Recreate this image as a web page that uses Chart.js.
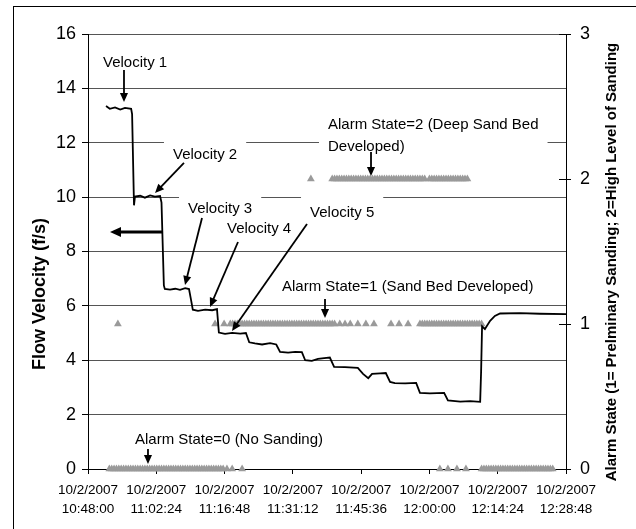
<!DOCTYPE html>
<html lang="en">
<head>
    <meta charset="UTF-8" />
    <title>Flow Velocity and Alarm State</title>
    <script src="https://cdn.jsdelivr.net/npm/chart.js"></script>
    <style>
        html, body {
          margin: 0;
          padding: 0;
          background: #fff;
        }

        .chart-container {
          position: relative;
          width: 636px;
          height: 529px;
        }
    </style>
</head>
<body>

<div class="chart-container">
    <canvas id="flowChart"></canvas>
</div>

<script>
    // minutes after 10/2/2007 10:48:00
    const velMinutes = [
      3.8, 4.6, 5.7, 6.8, 7.8, 9.1, 9.3, 9.7, 9.9, 11.0,
      12.0, 13.1, 14.1, 15.2, 15.5, 16.0, 16.2, 17.3, 18.4, 19.4,
      20.5, 21.3, 21.7, 22.1, 23.2, 24.7, 26.2, 27.2, 27.6, 28.9,
      30.4, 32.1, 33.3, 34.0, 35.2, 36.7, 38.4, 39.7, 40.5, 42.2,
      43.7, 45.1, 45.8, 47.2, 48.5, 49.8, 51.0, 51.9, 54.2, 56.9,
      58.0, 59.1, 59.9, 61.6, 62.8, 63.7, 64.7, 66.9, 69.2, 70.0,
      72.1, 75.1, 75.9, 78.5, 80.6, 82.7, 82.9, 83.1, 83.7, 84.8,
      85.8, 86.9, 91.1, 95.3, 100.8
    ];
    const velValues = [
      13.35, 13.25, 13.30, 13.22, 13.28, 13.25, 13.05, 9.70, 10.02, 10.05,
      9.98, 10.06, 10.02, 10.04, 9.80, 6.75, 6.62, 6.60, 6.63, 6.59,
      6.65, 6.62, 6.25, 5.86, 5.82, 5.86, 5.84, 5.88, 5.02, 4.97,
      5.01, 4.98, 5.00, 4.66, 4.62, 4.58, 4.63, 4.58, 4.31, 4.28,
      4.31, 4.30, 4.00, 3.98, 4.05, 4.08, 4.10, 3.76, 3.75, 3.72,
      3.50, 3.34, 3.50, 3.52, 3.53, 3.20, 3.16, 3.15, 3.17, 2.80,
      2.78, 2.80, 2.52, 2.48, 2.50, 2.47, 3.60, 5.25, 5.15, 5.45,
      5.63, 5.72, 5.73, 5.71, 5.70
    ];

    // alarm samples, one list per state (minutes after 10:48:00)
    const alarm0Minutes = [
      4.5, 5, 5.5, 6, 6.5, 7, 7.5, 8, 8.5, 9, 9.5, 10, 10.5, 11, 11.5, 12, 12.5,
      13, 13.5, 14, 14.5, 15, 15.5, 16, 16.5, 17, 17.5, 18, 18.5, 19, 19.5, 20,
      20.5, 21, 21.5, 22, 22.5, 23, 23.5, 24, 24.5, 25, 25.5, 26, 26.5, 27, 27.5,
      28, 28.5, 29.3, 30.4, 32.5,
      74.2, 75.9, 77.8, 79.7,
      83, 83.5, 84, 84.5, 85, 85.5, 86, 86.5, 87, 87.5, 88, 88.5, 89, 89.5, 90,
      90.5, 91, 91.5, 92, 92.5, 93, 93.5, 94, 94.5, 95, 95.5, 96, 96.5, 97, 97.5, 98
    ];
    const alarm1Minutes = [
      6.3, 26.8, 28.7,
      30, 30.5, 31, 31.5, 32, 32.5, 33, 33.5, 34, 34.5, 35, 35.5, 36, 36.5, 37,
      37.5, 38, 38.5, 39, 39.5, 40, 40.5, 41, 41.5, 42, 42.5, 43, 43.5, 44, 44.5,
      45, 45.5, 46, 46.5, 47, 47.5, 48, 48.5, 49, 49.5, 50, 50.5, 51, 51.5, 52,
      53.1, 54.2, 55.3, 56.9, 58.6, 60.3, 63.9, 65.6, 67.5,
      70, 70.5, 71, 71.5, 72, 72.5, 73, 73.5, 74, 74.5, 75, 75.5, 76, 76.5, 77,
      77.5, 78, 78.5, 79, 79.5, 80, 80.5, 81, 81.5, 82, 82.5, 83
    ];
    const alarm2Minutes = [
      47.0,
      51.5, 52, 52.5, 53, 53.5, 54, 54.5, 55, 55.5, 56, 56.5, 57, 57.5, 58, 58.5,
      59, 59.5, 60, 60.5, 61, 61.5, 62, 62.5, 63, 63.5, 64, 64.5, 65, 65.5, 66,
      66.5, 67, 67.5, 68, 68.5, 69, 69.5, 70, 70.5, 71,
      72, 72.5, 73, 73.5, 74, 74.5, 75, 75.5, 76, 76.5, 77, 77.5, 78, 78.5, 79,
      79.5, 80
    ];

    const tickMinutes = [0, 14.4, 28.8, 43.2, 57.6, 72, 86.4, 100.8];
    const tickDates = ['10/2/2007', '10/2/2007', '10/2/2007', '10/2/2007',
                       '10/2/2007', '10/2/2007', '10/2/2007', '10/2/2007'];
    const tickTimes = ['10:48:00', '11:02:24', '11:16:48', '11:31:12',
                       '11:45:36', '12:00:00', '12:14:24', '12:28:48'];

    const FONT = '"Liberation Sans", Arial, sans-serif';

    // callouts, placed in (minutes, f/s)
    const notes = [
      { lines: ['Velocity 1'], at: [3.16, 14.93], box: false, arrow: [[7.59, 14.68], [7.59, 13.5]] },
      { lines: ['Velocity 2'], at: [17.92, 11.55], box: true, arrow: [[20.24, 11.26], [14.13, 10.15]] },
      { lines: ['Velocity 3'], at: [21.09, 9.56], box: true, arrow: [[24.04, 9.23], [20.46, 6.77]] },
      { lines: ['Velocity 4'], at: [29.31, 8.83], box: false, arrow: [[31.63, 8.35], [25.73, 5.96]] },
      { lines: ['Velocity 5'], at: [46.82, 9.42], box: true, arrow: [[46.18, 9.01], [30.37, 5.08]] },
      { lines: ['Alarm State=2 (Deep Sand Bed', 'Developed)'], at: [50.61, 12.65], box: true,
        arrow: [[59.68, 11.66], [59.68, 10.78]] },
      { lines: ['Alarm State=1 (Sand Bed Developed)'], at: [40.91, 6.69], box: false,
        arrow: [[49.98, 6.25], [49.98, 5.55]] },
      { lines: ['Alarm State=0 (No Sanding)'], at: [9.91, 1.07], box: false,
        arrow: [[12.65, 0.74], [12.65, 0.18]] }
    ];
    const axisArrow = [[15.82, 8.72], [4.64, 8.72]];

    function drawArrow(ctx, x1, y1, x2, y2, width, head) {
      const ang = Math.atan2(y2 - y1, x2 - x1);
      ctx.strokeStyle = '#000';
      ctx.fillStyle = '#000';
      ctx.lineWidth = width;
      ctx.beginPath();
      ctx.moveTo(x1, y1);
      ctx.lineTo(x2 - Math.cos(ang) * head * 0.8, y2 - Math.sin(ang) * head * 0.8);
      ctx.stroke();
      ctx.beginPath();
      ctx.moveTo(x2, y2);
      ctx.lineTo(x2 - Math.cos(ang) * head + Math.sin(ang) * head * 0.45,
                 y2 - Math.sin(ang) * head - Math.cos(ang) * head * 0.45);
      ctx.lineTo(x2 - Math.cos(ang) * head - Math.sin(ang) * head * 0.45,
                 y2 - Math.sin(ang) * head + Math.cos(ang) * head * 0.45);
      ctx.closePath();
      ctx.fill();
    }

    const overlay = {
      id: 'overlay',
      afterDraw(chart) {
        const { ctx } = chart;
        const x = chart.scales.x;
        const y = chart.scales.y;
        const y2 = chart.scales.y2;
        const px = v => x.getPixelForValue(v);
        const py = v => y.getPixelForValue(v);

        ctx.save();

        // outer frame
        ctx.strokeStyle = '#000';
        ctx.lineWidth = 1;
        ctx.strokeRect(13.5, 6.5, 700, 600);

        // right axis ticks also cross into the plot
        ctx.beginPath();
        [0, 1, 2, 3].forEach(v => {
          const yy = Math.round(y2.getPixelForValue(v)) + 0.5;
          ctx.moveTo(y2.left - 7, yy);
          ctx.lineTo(y2.left, yy);
        });
        ctx.stroke();

        // axis titles
        ctx.fillStyle = '#000';
        ctx.textAlign = 'center';
        ctx.textBaseline = 'middle';
        ctx.save();
        ctx.translate(40, 294);
        ctx.rotate(-Math.PI / 2);
        ctx.font = 'bold 18px ' + FONT;
        ctx.fillText('Flow Velocity (f/s)', 0, 0);
        ctx.restore();
        ctx.save();
        ctx.translate(612, 262);
        ctx.rotate(-Math.PI / 2);
        ctx.font = 'bold 15px ' + FONT;
        ctx.fillText('Alarm State (1= Prelminary Sanding; 2=High Level of Sanding', 0, 0);
        ctx.restore();

        // callouts
        ctx.font = '15px ' + FONT;
        ctx.textAlign = 'left';
        const lineGap = 22;
        notes.forEach(n => {
          if (!n.box) return;
          const left = px(n.at[0]);
          const top = py(n.at[1]);
          const w = Math.max(...n.lines.map(t => ctx.measureText(t).width));
          ctx.fillStyle = '#fff';
          ctx.fillRect(left - 9, top - 18, w + 18, (n.lines.length - 1) * lineGap + 36);
        });
        ctx.fillStyle = '#000';
        notes.forEach(n => {
          n.lines.forEach((t, i) => {
            ctx.fillText(t, px(n.at[0]), py(n.at[1]) + i * lineGap);
          });
        });
        notes.forEach(n => {
          const [a, b] = n.arrow;
          drawArrow(ctx, px(a[0]), py(a[1]), px(b[0]), py(b[1]), 1.8, 9);
        });
        drawArrow(ctx, px(axisArrow[0][0]), py(axisArrow[0][1]),
                  px(axisArrow[1][0]), py(axisArrow[1][1]), 3, 11);

        ctx.restore();
      }
    };

    const alarmStyle = {
      showLine: false,
      pointStyle: 'triangle',
      pointRadius: 4.5,
      pointBackgroundColor: '#9a9a9a',
      pointBorderColor: '#9a9a9a',
      pointBorderWidth: 0,
      yAxisID: 'y2',
      clip: false
    };

    const ctx = document.getElementById('flowChart').getContext('2d');
    const chart = new Chart(ctx, {
      type: 'line',
      data: {
        datasets: [
          {
            label: 'Velocity',
            data: velMinutes.map((m, i) => ({ x: m, y: velValues[i] })),
            borderColor: '#000',
            borderWidth: 1.8,
            pointRadius: 0,
            tension: 0,
            yAxisID: 'y'
          },
          Object.assign({ label: 'Alarm 2', data: alarm2Minutes.map(m => ({ x: m, y: 2 })) }, alarmStyle),
          Object.assign({ label: 'Alarm 1', data: alarm1Minutes.map(m => ({ x: m, y: 1 })) }, alarmStyle),
          Object.assign({ label: 'Alarm 0', data: alarm0Minutes.map(m => ({ x: m, y: 0 })) }, alarmStyle)
        ]
      },
      options: {
        responsive: true,
        maintainAspectRatio: false,
        animation: false,
        layout: { padding: { top: 34, left: 0, right: 0, bottom: 0 } },
        font: { family: FONT },
        plugins: {
          legend: { display: false },
          tooltip: { enabled: false }
        },
        scales: {
          x: {
            type: 'linear',
            min: 0,
            max: 100.8,
            afterBuildTicks: s => { s.ticks = tickMinutes.map(v => ({ value: v })); },
            afterFit: s => { s.height = 60; },
            ticks: {
              autoSkip: false,
              maxRotation: 0,
              minRotation: 0,
              color: '#000',
              padding: 6,
              font: { family: FONT, size: 13.5, lineHeight: 1.45 },
              callback: (v, i) => [tickDates[i], tickTimes[i]]
            },
            grid: { drawOnChartArea: false, tickLength: 5, color: '#000' },
            border: { color: '#000', width: 1 }
          },
          y: {
            position: 'left',
            min: 0,
            max: 16,
            afterFit: s => { s.width = 88; },
            ticks: {
              stepSize: 2,
              color: '#000',
              padding: 6,
              font: { family: FONT, size: 18 }
            },
            grid: { color: '#555', tickColor: '#000', tickLength: 6 },
            border: { color: '#000', width: 1 }
          },
          y2: {
            position: 'right',
            min: 0,
            max: 3,
            afterFit: s => { s.width = 70; },
            ticks: {
              stepSize: 1,
              color: '#000',
              padding: 9,
              font: { family: FONT, size: 18 }
            },
            grid: { drawOnChartArea: false, tickColor: '#000', tickLength: 5 },
            border: { color: '#000', width: 1 }
          }
        }
      },
      plugins: [overlay]
    });
</script>

</body>
</html>
